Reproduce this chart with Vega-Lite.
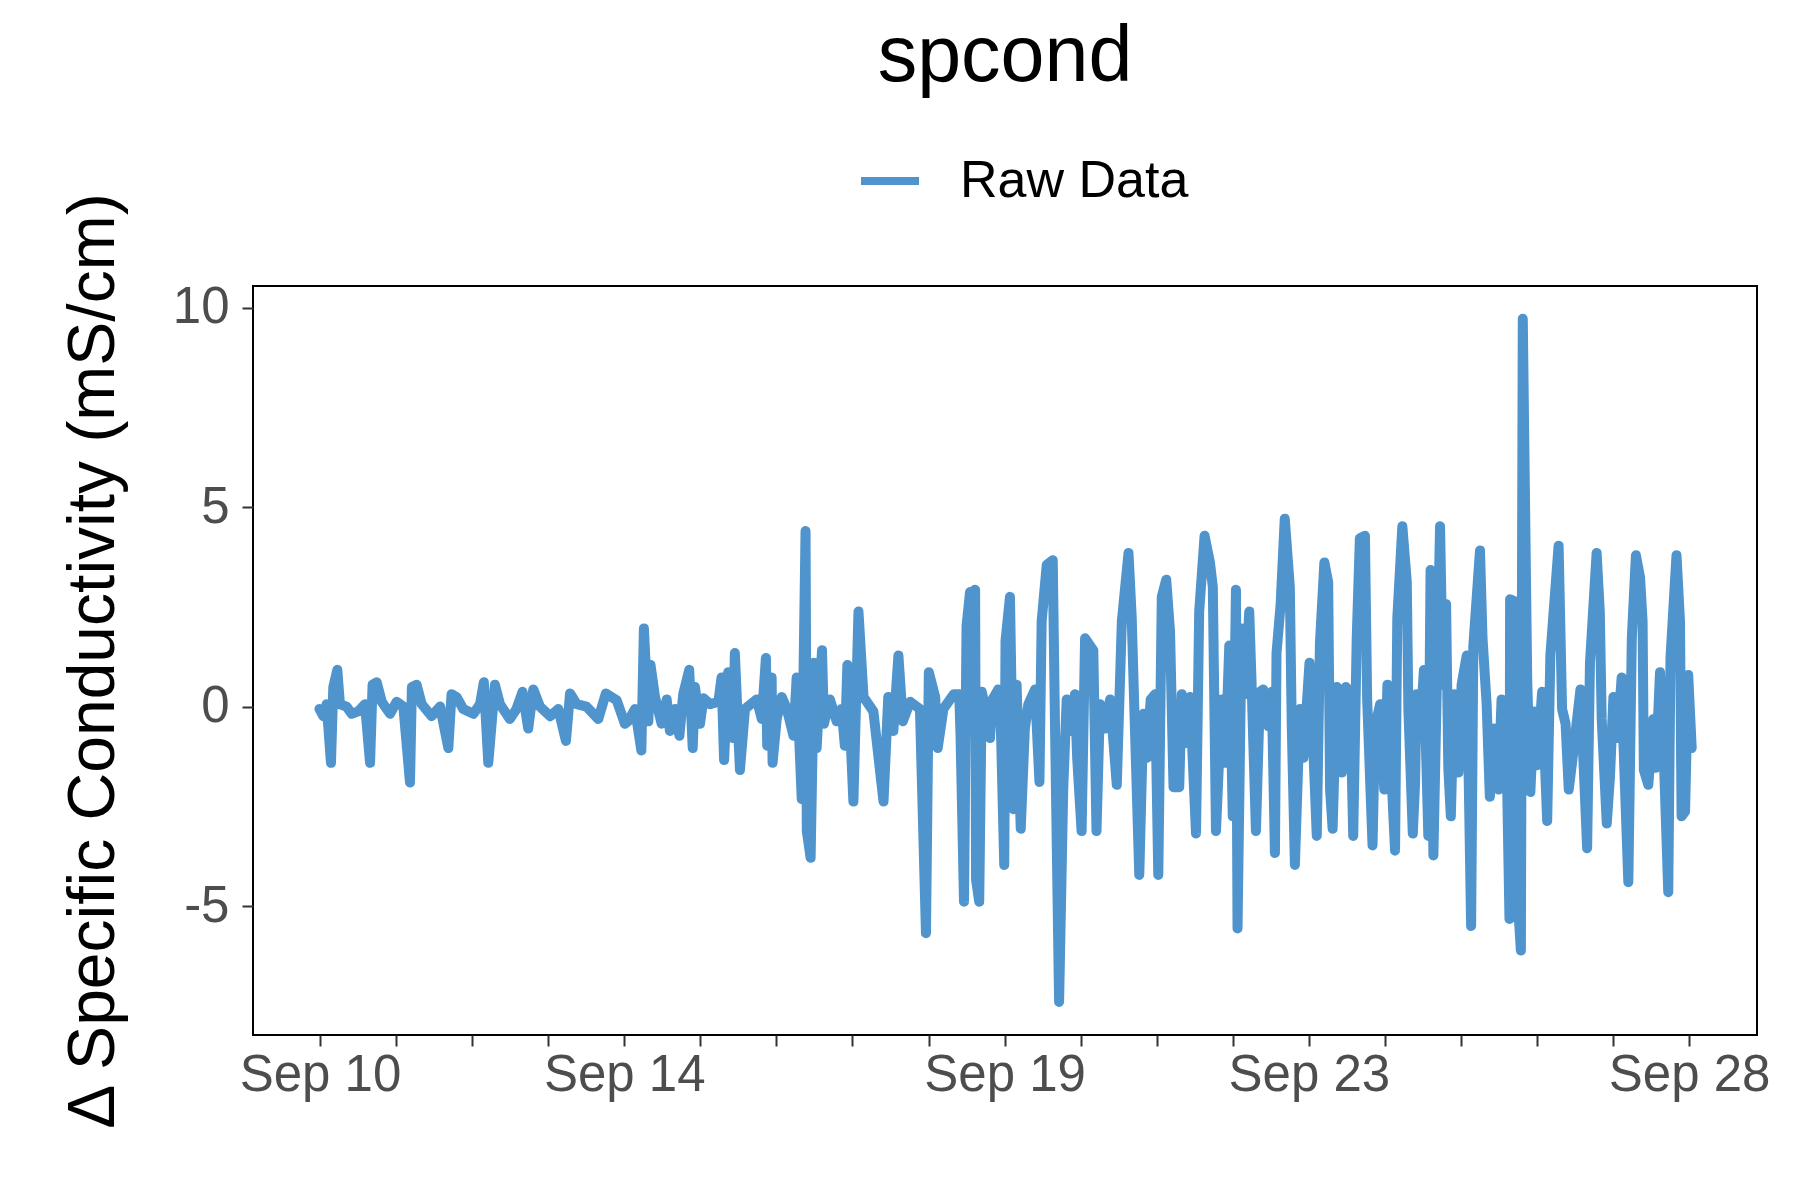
{
  "$schema": "https://vega.github.io/schema/vega-lite/v6.json",
  "width": 1504,
  "height": 749,
  "autosize": {"type": "none"},
  "padding": {"left": 253, "top": 286, "right": 43, "bottom": 165},
  "background": "white",
  "title": {
    "text": "spcond",
    "anchor": "middle",
    "font": "Liberation Sans",
    "fontSize": 79,
    "fontWeight": "normal",
    "color": "black",
    "offset": 50
  },
  "config": {
    "view": {"stroke": "black", "strokeWidth": 2},
    "font": "Liberation Sans"
  },
  "data": {
    "values": [
      {"t": "2023-09-09T23:50", "v": -0.06},
      {"t": "2023-09-10T01:03", "v": -0.24},
      {"t": "2023-09-10T02:06", "v": 0.06},
      {"t": "2023-09-10T03:28", "v": -1.41},
      {"t": "2023-09-10T04:12", "v": 0.49},
      {"t": "2023-09-10T05:28", "v": 0.92},
      {"t": "2023-09-10T06:18", "v": 0.06},
      {"t": "2023-09-10T08:24", "v": 0},
      {"t": "2023-09-10T10:00", "v": -0.18},
      {"t": "2023-09-10T12:06", "v": -0.12},
      {"t": "2023-09-10T14:12", "v": 0.06},
      {"t": "2023-09-10T15:48", "v": -1.41},
      {"t": "2023-09-10T16:36", "v": 0.55},
      {"t": "2023-09-10T17:54", "v": 0.61},
      {"t": "2023-09-10T19:30", "v": 0.12},
      {"t": "2023-09-10T22:06", "v": -0.18},
      {"t": "2023-09-11T00:12", "v": 0.12},
      {"t": "2023-09-11T02:18", "v": 0},
      {"t": "2023-09-11T04:24", "v": -1.9},
      {"t": "2023-09-11T05:00", "v": 0.49},
      {"t": "2023-09-11T06:30", "v": 0.55},
      {"t": "2023-09-11T08:06", "v": 0.06},
      {"t": "2023-09-11T11:12", "v": -0.24},
      {"t": "2023-09-11T13:54", "v": 0},
      {"t": "2023-09-11T16:30", "v": -1.04},
      {"t": "2023-09-11T17:30", "v": 0.31},
      {"t": "2023-09-11T19:06", "v": 0.24},
      {"t": "2023-09-11T21:12", "v": -0.06},
      {"t": "2023-09-12T00:24", "v": -0.18},
      {"t": "2023-09-12T02:30", "v": 0.06},
      {"t": "2023-09-12T03:42", "v": 0.61},
      {"t": "2023-09-12T05:06", "v": -1.41},
      {"t": "2023-09-12T07:12", "v": 0.55},
      {"t": "2023-09-12T08:48", "v": 0.06},
      {"t": "2023-09-12T11:54", "v": -0.31},
      {"t": "2023-09-12T14:00", "v": -0.06},
      {"t": "2023-09-12T15:54", "v": 0.37},
      {"t": "2023-09-12T17:42", "v": -0.55},
      {"t": "2023-09-12T19:18", "v": 0.43},
      {"t": "2023-09-12T21:24", "v": 0},
      {"t": "2023-09-13T00:36", "v": -0.24},
      {"t": "2023-09-13T03:12", "v": -0.06},
      {"t": "2023-09-13T05:36", "v": -0.86},
      {"t": "2023-09-13T06:54", "v": 0.33},
      {"t": "2023-09-13T09:00", "v": 0.06},
      {"t": "2023-09-13T12:06", "v": 0},
      {"t": "2023-09-13T15:48", "v": -0.31},
      {"t": "2023-09-13T18:12", "v": 0.33},
      {"t": "2023-09-13T21:36", "v": 0.16},
      {"t": "2023-09-14T00:12", "v": -0.43},
      {"t": "2023-09-14T01:12", "v": -0.37},
      {"t": "2023-09-14T03:24", "v": -0.06},
      {"t": "2023-09-14T05:24", "v": -1.1},
      {"t": "2023-09-14T06:12", "v": 1.96},
      {"t": "2023-09-14T07:36", "v": -0.37},
      {"t": "2023-09-14T08:18", "v": 1.04},
      {"t": "2023-09-14T09:42", "v": 0.24},
      {"t": "2023-09-14T11:48", "v": -0.43},
      {"t": "2023-09-14T13:24", "v": 0.18},
      {"t": "2023-09-14T14:24", "v": -0.61},
      {"t": "2023-09-14T16:00", "v": -0.06},
      {"t": "2023-09-14T17:24", "v": -0.73},
      {"t": "2023-09-14T18:36", "v": 0.31},
      {"t": "2023-09-14T20:30", "v": 0.92},
      {"t": "2023-09-14T21:36", "v": -1.04},
      {"t": "2023-09-14T22:18", "v": 0.49},
      {"t": "2023-09-14T23:54", "v": -0.43},
      {"t": "2023-09-15T01:00", "v": 0.21},
      {"t": "2023-09-15T03:06", "v": 0.06},
      {"t": "2023-09-15T05:42", "v": 0.12},
      {"t": "2023-09-15T06:42", "v": 0.73},
      {"t": "2023-09-15T07:30", "v": -1.34},
      {"t": "2023-09-15T08:48", "v": 0.86},
      {"t": "2023-09-15T10:24", "v": -0.79},
      {"t": "2023-09-15T10:54", "v": 1.34},
      {"t": "2023-09-15T12:30", "v": -1.59},
      {"t": "2023-09-15T14:06", "v": -0.06},
      {"t": "2023-09-15T17:48", "v": 0.18},
      {"t": "2023-09-15T19:24", "v": -0.31},
      {"t": "2023-09-15T20:42", "v": 1.22},
      {"t": "2023-09-15T21:06", "v": -0.98},
      {"t": "2023-09-15T22:30", "v": 0.73},
      {"t": "2023-09-15T22:48", "v": -1.41},
      {"t": "2023-09-16T00:06", "v": -0.31},
      {"t": "2023-09-16T01:42", "v": 0.24},
      {"t": "2023-09-16T03:18", "v": -0.06},
      {"t": "2023-09-16T05:24", "v": -0.73},
      {"t": "2023-09-16T06:24", "v": 0.73},
      {"t": "2023-09-16T08:00", "v": -2.32},
      {"t": "2023-09-16T09:12", "v": 4.4},
      {"t": "2023-09-16T09:36", "v": -3.12},
      {"t": "2023-09-16T10:48", "v": -3.79},
      {"t": "2023-09-16T11:54", "v": 1.1},
      {"t": "2023-09-16T12:42", "v": -1.04},
      {"t": "2023-09-16T14:24", "v": 1.41},
      {"t": "2023-09-16T15:00", "v": -0.43},
      {"t": "2023-09-16T16:54", "v": 0.18},
      {"t": "2023-09-16T19:00", "v": -0.37},
      {"t": "2023-09-16T20:36", "v": -0.06},
      {"t": "2023-09-16T21:36", "v": -0.98},
      {"t": "2023-09-16T22:24", "v": 1.04},
      {"t": "2023-09-17T00:18", "v": -2.38},
      {"t": "2023-09-17T01:54", "v": 2.38},
      {"t": "2023-09-17T03:30", "v": 0.24},
      {"t": "2023-09-17T06:36", "v": -0.12},
      {"t": "2023-09-17T09:48", "v": -2.38},
      {"t": "2023-09-17T11:18", "v": 0.24},
      {"t": "2023-09-17T12:54", "v": -0.61},
      {"t": "2023-09-17T14:30", "v": 1.28},
      {"t": "2023-09-17T15:54", "v": -0.37},
      {"t": "2023-09-17T18:12", "v": 0.12},
      {"t": "2023-09-17T21:18", "v": -0.06},
      {"t": "2023-09-17T23:12", "v": -5.68},
      {"t": "2023-09-18T00:06", "v": 0.86},
      {"t": "2023-09-18T02:06", "v": 0.24},
      {"t": "2023-09-18T02:54", "v": -1.04},
      {"t": "2023-09-18T04:42", "v": -0.06},
      {"t": "2023-09-18T08:00", "v": 0.31},
      {"t": "2023-09-18T09:42", "v": 0.31},
      {"t": "2023-09-18T10:06", "v": -0.73},
      {"t": "2023-09-18T11:12", "v": -4.89},
      {"t": "2023-09-18T12:00", "v": 2.02},
      {"t": "2023-09-18T13:06", "v": 2.87},
      {"t": "2023-09-18T14:06", "v": -0.31},
      {"t": "2023-09-18T14:42", "v": 2.93},
      {"t": "2023-09-18T15:00", "v": -4.34},
      {"t": "2023-09-18T16:00", "v": -4.89},
      {"t": "2023-09-18T16:48", "v": 0.37},
      {"t": "2023-09-18T18:18", "v": -0.18},
      {"t": "2023-09-18T19:24", "v": -0.79},
      {"t": "2023-09-18T20:12", "v": 0.18},
      {"t": "2023-09-18T22:00", "v": 0.43},
      {"t": "2023-09-18T22:48", "v": -0.43},
      {"t": "2023-09-18T23:54", "v": -3.97},
      {"t": "2023-09-19T00:18", "v": 1.65},
      {"t": "2023-09-19T01:42", "v": 2.75},
      {"t": "2023-09-19T02:48", "v": -2.57},
      {"t": "2023-09-19T03:48", "v": 0.55},
      {"t": "2023-09-19T05:06", "v": -3.06},
      {"t": "2023-09-19T06:24", "v": -0.55},
      {"t": "2023-09-19T07:30", "v": 0.06},
      {"t": "2023-09-19T09:36", "v": 0.43},
      {"t": "2023-09-19T11:00", "v": -1.89},
      {"t": "2023-09-19T11:42", "v": 2.14},
      {"t": "2023-09-19T13:18", "v": 3.55},
      {"t": "2023-09-19T15:12", "v": 3.67},
      {"t": "2023-09-19T15:54", "v": -0.43},
      {"t": "2023-09-19T17:12", "v": -7.4},
      {"t": "2023-09-19T18:30", "v": -2.08},
      {"t": "2023-09-19T19:36", "v": 0.18},
      {"t": "2023-09-19T21:12", "v": -0.61},
      {"t": "2023-09-19T22:12", "v": 0.31},
      {"t": "2023-09-19T22:54", "v": -1.28},
      {"t": "2023-09-20T00:18", "v": -3.12},
      {"t": "2023-09-20T01:24", "v": 1.71},
      {"t": "2023-09-20T04:00", "v": 1.41},
      {"t": "2023-09-20T05:00", "v": -3.12},
      {"t": "2023-09-20T06:06", "v": 0.06},
      {"t": "2023-09-20T07:42", "v": -0.55},
      {"t": "2023-09-20T09:18", "v": 0.18},
      {"t": "2023-09-20T11:24", "v": -1.96},
      {"t": "2023-09-20T13:00", "v": 2.14},
      {"t": "2023-09-20T15:06", "v": 3.85},
      {"t": "2023-09-20T16:06", "v": 2.26},
      {"t": "2023-09-20T16:54", "v": 0.06},
      {"t": "2023-09-20T18:30", "v": -4.22},
      {"t": "2023-09-20T19:48", "v": -0.18},
      {"t": "2023-09-20T20:54", "v": -1.28},
      {"t": "2023-09-20T22:06", "v": 0.18},
      {"t": "2023-09-20T23:30", "v": 0.31},
      {"t": "2023-09-21T00:30", "v": -4.22},
      {"t": "2023-09-21T01:36", "v": 2.75},
      {"t": "2023-09-21T03:00", "v": 3.18},
      {"t": "2023-09-21T04:12", "v": 1.89},
      {"t": "2023-09-21T05:18", "v": -2.02},
      {"t": "2023-09-21T07:06", "v": -2.02},
      {"t": "2023-09-21T07:54", "v": 0.31},
      {"t": "2023-09-21T08:54", "v": -0.92},
      {"t": "2023-09-21T10:30", "v": 0.24},
      {"t": "2023-09-21T12:24", "v": -3.18},
      {"t": "2023-09-21T13:24", "v": 2.38},
      {"t": "2023-09-21T15:06", "v": 4.28},
      {"t": "2023-09-21T16:48", "v": 3.61},
      {"t": "2023-09-21T17:42", "v": 3.0},
      {"t": "2023-09-21T18:42", "v": -3.12},
      {"t": "2023-09-21T20:30", "v": 0.18},
      {"t": "2023-09-21T21:36", "v": -1.41},
      {"t": "2023-09-21T22:54", "v": 1.53},
      {"t": "2023-09-22T00:00", "v": -2.75},
      {"t": "2023-09-22T01:00", "v": 2.93},
      {"t": "2023-09-22T01:30", "v": -5.56},
      {"t": "2023-09-22T02:48", "v": 1.96},
      {"t": "2023-09-22T03:48", "v": 0.31},
      {"t": "2023-09-22T05:12", "v": 2.38},
      {"t": "2023-09-22T05:54", "v": 0.67},
      {"t": "2023-09-22T07:18", "v": -3.12},
      {"t": "2023-09-22T08:36", "v": 0.37},
      {"t": "2023-09-22T09:36", "v": 0.43},
      {"t": "2023-09-22T11:12", "v": -0.49},
      {"t": "2023-09-22T12:18", "v": 0.37},
      {"t": "2023-09-22T13:18", "v": -3.67},
      {"t": "2023-09-22T13:48", "v": 1.34},
      {"t": "2023-09-22T15:06", "v": 2.57},
      {"t": "2023-09-22T16:24", "v": 4.71},
      {"t": "2023-09-22T18:00", "v": 3.0},
      {"t": "2023-09-22T18:36", "v": -0.43},
      {"t": "2023-09-22T19:36", "v": -3.97},
      {"t": "2023-09-22T21:12", "v": -0.06},
      {"t": "2023-09-22T22:18", "v": -1.28},
      {"t": "2023-09-23T00:12", "v": 1.1},
      {"t": "2023-09-23T01:24", "v": -1.04},
      {"t": "2023-09-23T02:30", "v": -3.24},
      {"t": "2023-09-23T03:30", "v": 1.59},
      {"t": "2023-09-23T04:54", "v": 3.61},
      {"t": "2023-09-23T06:06", "v": 3.12},
      {"t": "2023-09-23T06:42", "v": -2.08},
      {"t": "2023-09-23T07:30", "v": -3.06},
      {"t": "2023-09-23T08:48", "v": 0.49},
      {"t": "2023-09-23T10:24", "v": -1.65},
      {"t": "2023-09-23T11:42", "v": 0.49},
      {"t": "2023-09-23T13:00", "v": 0.37},
      {"t": "2023-09-23T14:00", "v": -3.24},
      {"t": "2023-09-23T15:06", "v": 1.71},
      {"t": "2023-09-23T16:06", "v": 4.22},
      {"t": "2023-09-23T17:42", "v": 4.28},
      {"t": "2023-09-23T18:24", "v": 0.18},
      {"t": "2023-09-23T20:06", "v": -3.48},
      {"t": "2023-09-23T20:54", "v": -0.49},
      {"t": "2023-09-23T22:30", "v": 0.06},
      {"t": "2023-09-23T23:48", "v": -2.08},
      {"t": "2023-09-24T00:48", "v": 0.55},
      {"t": "2023-09-24T02:06", "v": -1.77},
      {"t": "2023-09-24T03:12", "v": -3.61},
      {"t": "2023-09-24T03:54", "v": 2.2},
      {"t": "2023-09-24T05:30", "v": 4.52},
      {"t": "2023-09-24T06:54", "v": 3.12},
      {"t": "2023-09-24T07:24", "v": -0.06},
      {"t": "2023-09-24T08:48", "v": -3.18},
      {"t": "2023-09-24T09:30", "v": -1.96},
      {"t": "2023-09-24T10:00", "v": 0.31},
      {"t": "2023-09-24T11:06", "v": -0.67},
      {"t": "2023-09-24T12:18", "v": 0.92},
      {"t": "2023-09-24T13:42", "v": -3.24},
      {"t": "2023-09-24T14:24", "v": 3.42},
      {"t": "2023-09-24T15:18", "v": -3.73},
      {"t": "2023-09-24T17:24", "v": 4.52},
      {"t": "2023-09-24T18:18", "v": 0.55},
      {"t": "2023-09-24T19:18", "v": 2.57},
      {"t": "2023-09-24T20:00", "v": -1.53},
      {"t": "2023-09-24T20:48", "v": -2.75},
      {"t": "2023-09-24T21:48", "v": 0.31},
      {"t": "2023-09-24T23:12", "v": -1.65},
      {"t": "2023-09-25T00:12", "v": 0.55},
      {"t": "2023-09-25T01:48", "v": 1.28},
      {"t": "2023-09-25T03:12", "v": -5.5},
      {"t": "2023-09-25T03:54", "v": 1.53},
      {"t": "2023-09-25T06:00", "v": 3.91},
      {"t": "2023-09-25T06:48", "v": 1.71},
      {"t": "2023-09-25T08:06", "v": 0.06},
      {"t": "2023-09-25T09:06", "v": -2.26},
      {"t": "2023-09-25T10:30", "v": -0.55},
      {"t": "2023-09-25T11:48", "v": -2.08},
      {"t": "2023-09-25T12:48", "v": 0.18},
      {"t": "2023-09-25T14:12", "v": -0.31},
      {"t": "2023-09-25T15:18", "v": -5.32},
      {"t": "2023-09-25T15:30", "v": 2.69},
      {"t": "2023-09-25T17:06", "v": 2.63},
      {"t": "2023-09-25T17:36", "v": -4.46},
      {"t": "2023-09-25T18:54", "v": -6.11},
      {"t": "2023-09-25T19:30", "v": 9.72},
      {"t": "2023-09-25T20:54", "v": 0.67},
      {"t": "2023-09-25T21:54", "v": -2.14},
      {"t": "2023-09-25T23:00", "v": -0.12},
      {"t": "2023-09-26T00:00", "v": -1.47},
      {"t": "2023-09-26T01:36", "v": 0.37},
      {"t": "2023-09-26T03:12", "v": -2.87},
      {"t": "2023-09-26T04:12", "v": 1.28},
      {"t": "2023-09-26T06:48", "v": 4.03},
      {"t": "2023-09-26T07:54", "v": -0.06},
      {"t": "2023-09-26T09:00", "v": -0.43},
      {"t": "2023-09-26T10:00", "v": -2.08},
      {"t": "2023-09-26T11:36", "v": -1.04},
      {"t": "2023-09-26T13:42", "v": 0.43},
      {"t": "2023-09-26T15:48", "v": -3.55},
      {"t": "2023-09-26T16:42", "v": 1.1},
      {"t": "2023-09-26T18:48", "v": 3.85},
      {"t": "2023-09-26T19:48", "v": 2.38},
      {"t": "2023-09-26T20:24", "v": -0.31},
      {"t": "2023-09-26T22:00", "v": -2.93},
      {"t": "2023-09-26T23:00", "v": -1.77},
      {"t": "2023-09-27T00:06", "v": 0.24},
      {"t": "2023-09-27T01:18", "v": -0.79},
      {"t": "2023-09-27T02:42", "v": 0.73},
      {"t": "2023-09-27T03:12", "v": -0.79},
      {"t": "2023-09-27T04:48", "v": -4.4},
      {"t": "2023-09-27T05:54", "v": 1.71},
      {"t": "2023-09-27T07:12", "v": 3.79},
      {"t": "2023-09-27T08:30", "v": 3.24},
      {"t": "2023-09-27T09:18", "v": 2.14},
      {"t": "2023-09-27T09:42", "v": -1.59},
      {"t": "2023-09-27T11:06", "v": -1.96},
      {"t": "2023-09-27T12:42", "v": -0.31},
      {"t": "2023-09-27T13:30", "v": -1.53},
      {"t": "2023-09-27T14:48", "v": 0.86},
      {"t": "2023-09-27T15:48", "v": -0.79},
      {"t": "2023-09-27T17:24", "v": -4.65},
      {"t": "2023-09-27T18:06", "v": 1.22},
      {"t": "2023-09-27T20:00", "v": 3.79},
      {"t": "2023-09-27T21:06", "v": 2.14},
      {"t": "2023-09-27T21:36", "v": -2.75},
      {"t": "2023-09-27T22:42", "v": -2.63},
      {"t": "2023-09-27T23:42", "v": 0.79},
      {"t": "2023-09-28T00:48", "v": -1.04}
    ]
  },
  "mark": {"type": "line", "strokeWidth": 10, "strokeJoin": "round", "strokeCap": "round", "clip": true},
  "encoding": {
    "x": {
      "field": "t",
      "type": "temporal",
      "scale": {"domain": ["2023-09-09T02:52", "2023-09-28T21:24"]},
      "axis": {
        "title": null,
        "grid": false,
        "domain": false,
        "values": [
          "2023-09-10T00:00", "2023-09-11T00:00", "2023-09-12T00:00", "2023-09-13T00:00",
          "2023-09-14T00:00", "2023-09-15T00:00", "2023-09-16T00:00", "2023-09-17T00:00",
          "2023-09-18T00:00", "2023-09-19T00:00", "2023-09-20T00:00", "2023-09-21T00:00",
          "2023-09-22T00:00", "2023-09-23T00:00", "2023-09-24T00:00", "2023-09-25T00:00",
          "2023-09-26T00:00", "2023-09-27T00:00", "2023-09-28T00:00"
        ],
        "labelExpr": "indexof([10, 14, 19, 23, 28], date(datum.value)) >= 0 ? timeFormat(datum.value, '%b %d') : ''",
        "labelOverlap": false,
        "labelFlush": false,
        "labelFont": "Liberation Sans",
        "labelFontSize": 51,
        "labelColor": "#4D4D4D",
        "labelPadding": 4,
        "tickColor": "#333333",
        "tickWidth": 2,
        "tickSize": 11
      }
    },
    "y": {
      "field": "v",
      "type": "quantitative",
      "scale": {"domain": [-8.23, 10.54], "nice": false, "zero": false},
      "axis": {
        "title": "Δ Specific Conductivity (mS/cm)",
        "titleFont": "Liberation Sans",
        "titleFontSize": 66,
        "titleFontWeight": "normal",
        "titleColor": "black",
        "titlePadding": 45,
        "grid": false,
        "domain": false,
        "values": [-5, 0, 5, 10],
        "labelExpr": "'' + datum.value",
        "labelFont": "Liberation Sans",
        "labelFontSize": 51,
        "labelColor": "#4D4D4D",
        "labelPadding": 13,
        "tickColor": "#333333",
        "tickWidth": 2,
        "tickSize": 11
      }
    },
    "color": {
      "datum": "Raw Data",
      "scale": {"range": ["#4F94CD"]},
      "legend": {
        "title": null,
        "orient": "none",
        "legendX": 604,
        "legendY": -138,
        "padding": 0,
        "symbolType": "stroke",
        "symbolSize": 3364,
        "symbolStrokeWidth": 8,
        "labelFont": "Liberation Sans",
        "labelFontSize": 52,
        "labelColor": "black",
        "labelOffset": 37,
        "labelLimit": 400
      }
    }
  }
}
